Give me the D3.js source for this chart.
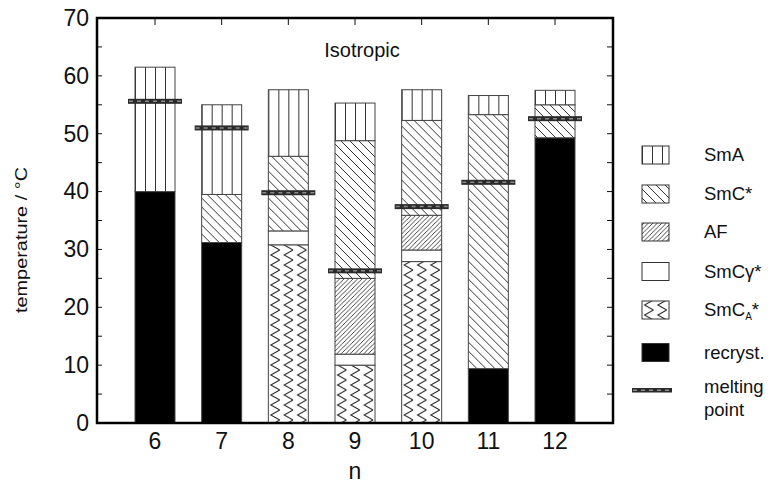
<!DOCTYPE html>
<html>
<head>
<meta charset="utf-8">
<script src="https://cdn.jsdelivr.net/npm/d3@7"></script>
<style>
  html, body { margin: 0; padding: 0; background: #fff; }
  svg { display: block; font-family: "Liberation Sans", Arial, Helvetica, sans-serif; }
</style>
</head>
<body>
<svg id="chart" width="777" height="486"></svg>
<script>
// ---------- data ----------
const categories = [6, 7, 8, 9, 10, 11, 12];
// upper boundary temperature (°C) of each phase range per homologue n; null = phase absent
const recrystTop   = [40.0, 31.2, null, null, null, 9.4, 49.3];
const smcaTop      = [null, null, 30.8, 10.0, 27.9, null, null];
const smcgTop      = [null, null, 33.2, 11.9, 29.9, null, null];
const afTop        = [null, null, null, 25.0, 35.9, null, null];
const smcTop       = [null, 39.5, 46.1, 48.8, 52.3, 53.3, 55.0];
const smaTop       = [61.5, 55.0, 57.6, 55.3, 57.6, 56.6, 57.5];
const meltingPoint = [55.6, 51.0, 39.8, 26.3, 37.4, 41.6, 52.6];
const yTicks = [0, 10, 20, 30, 40, 50, 60, 70];
const yMinorTicks = [0, 5, 10, 15, 20, 25, 30, 35, 40, 45, 50, 55, 60, 65, 70];

const phases = [
  { key: "recryst", tops: recrystTop },
  { key: "smca", tops: smcaTop },
  { key: "smcg", tops: smcgTop },
  { key: "af", tops: afTop },
  { key: "smc", tops: smcTop },
  { key: "sma", tops: smaTop }
];

// ---------- layout ----------
const svg = d3.select("#chart");
const L = 97, R = 613, T = 18, B = 423;

const x = d3.scaleBand().domain(categories).range([L, R]).paddingInner(0.4).paddingOuter(0.57);
const y = d3.scaleLinear().domain([0, 70]).range([B, T]);
const bw = x.bandwidth();

// ---------- patterns ----------
const defs = svg.append("defs");
function addPatterns(id, ox) {
  // SmA vertical lines
  const pA = defs.append("pattern").attr("id", "sma-" + id).attr("patternUnits", "userSpaceOnUse")
    .attr("x", ox).attr("y", 0).attr("width", bw / 4).attr("height", 20);
  pA.append("rect").attr("width", bw / 4).attr("height", 20).attr("fill", "#fff");
  pA.append("line").attr("x1", 0.5).attr("x2", 0.5).attr("y1", 0).attr("y2", 20)
    .attr("stroke", "#333").attr("stroke-width", 1);
  // SmC* back-diagonal lines "\"
  const s = 9;
  const pC = defs.append("pattern").attr("id", "smc-" + id).attr("patternUnits", "userSpaceOnUse")
    .attr("x", ox).attr("y", 0).attr("width", s).attr("height", s);
  pC.append("rect").attr("width", s).attr("height", s).attr("fill", "#fff");
  pC.append("path").attr("d", `M0,0 L${s},${s} M-2,${s - 2} L2,${s + 2} M${s - 2},-2 L${s + 2},2`)
    .attr("stroke", "#333").attr("stroke-width", 1);
  // AF dense forward-diagonal "/"
  const a = 4.5;
  const pF = defs.append("pattern").attr("id", "af-" + id).attr("patternUnits", "userSpaceOnUse")
    .attr("x", ox).attr("y", 0).attr("width", a).attr("height", a);
  pF.append("rect").attr("width", a).attr("height", a).attr("fill", "#fff");
  pF.append("path").attr("d", `M0,${a} L${a},0 M-1,1 L1,-1 M${a - 1},${a + 1} L${a + 1},${a - 1}`)
    .attr("stroke", "#333").attr("stroke-width", 0.9);
  // SmCA* zigzag columns
  const zw = bw / 3, zh = 10;
  const pZ = defs.append("pattern").attr("id", "smca-" + id).attr("patternUnits", "userSpaceOnUse")
    .attr("x", ox).attr("y", 0).attr("width", zw).attr("height", zh);
  pZ.append("rect").attr("width", zw).attr("height", zh).attr("fill", "#fff");
  pZ.append("path").attr("d", `M${zw - 2},0 L${2.5},${zh / 2} L${zw - 2},${zh}`)
    .attr("fill", "none").attr("stroke", "#222").attr("stroke-width", 1);
}
categories.forEach(c => addPatterns(c, x(c)));
addPatterns("leg", 642);

function fillFor(key, id) {
  if (key === "recryst") return "#000";
  if (key === "smcg") return "#fff";
  return `url(#${key}-${id})`;
}

// ---------- bars ----------
const segments = [];
categories.forEach((c, i) => {
  let lo = 0;
  phases.forEach(p => {
    const top = p.tops[i];
    if (top !== null && top !== undefined) {
      segments.push({ cat: c, key: p.key, lo: lo, hi: top });
      lo = top;
    }
  });
});

svg.append("g").selectAll("rect").data(segments).join("rect")
  .attr("x", d => x(d.cat))
  .attr("y", d => y(d.hi))
  .attr("width", bw)
  .attr("height", d => y(d.lo) - y(d.hi))
  .attr("fill", d => fillFor(d.key, d.cat))
  .attr("stroke", "#444")
  .attr("stroke-width", 1);

// melting points
const mp = svg.append("g");
categories.forEach((c, i) => {
  mp.append("rect").attr("x", x(c) - 7).attr("y", y(meltingPoint[i]) - 2.5)
    .attr("width", bw + 14).attr("height", 5).attr("fill", "#2a2a2a");
  mp.append("line").attr("x1", x(c) - 6).attr("x2", x(c) + bw + 6)
    .attr("y1", y(meltingPoint[i])).attr("y2", y(meltingPoint[i]))
    .attr("stroke", "#8a8a8a").attr("stroke-width", 1.5).attr("stroke-dasharray", "4,4");
});

// ---------- axes ----------
const yAxis = d3.axisLeft(y).tickValues(yTicks).tickSize(0).tickPadding(8);
const gy = svg.append("g").attr("transform", `translate(${L},0)`).call(yAxis);
gy.select(".domain").remove();
gy.selectAll("text").attr("font-size", 23).attr("fill", "#111")
  .attr("font-family", "'Liberation Sans', Arial, sans-serif");

const xAxis = d3.axisBottom(x).tickSize(0).tickPadding(10);
const gx = svg.append("g").attr("transform", `translate(0,${B})`).call(xAxis);
gx.select(".domain").remove();
gx.selectAll("text").attr("font-size", 23).attr("fill", "#111")
  .attr("font-family", "'Liberation Sans', Arial, sans-serif");

// minor/inward ticks
const ticks = svg.append("g").attr("stroke", "#111").attr("stroke-width", 1);
yMinorTicks.forEach(v => {
  ticks.append("line").attr("x1", L).attr("x2", L + 5).attr("y1", y(v)).attr("y2", y(v));
  ticks.append("line").attr("x1", R).attr("x2", R - 6).attr("y1", y(v)).attr("y2", y(v));
});
categories.forEach(c => {
  const cx = x(c) + bw / 2;
  ticks.append("line").attr("x1", cx).attr("x2", cx).attr("y1", T).attr("y2", T + 7);
});

// frame
svg.append("rect").attr("x", L).attr("y", T).attr("width", R - L).attr("height", B - T)
  .attr("fill", "none").attr("stroke", "#000").attr("stroke-width", 2.5);

// axis titles
svg.append("text").attr("x", 355).attr("y", 479).attr("text-anchor", "middle")
  .attr("font-size", 23).attr("fill", "#111").text("n");
svg.append("text").attr("transform", "translate(27,240) rotate(-90)")
  .attr("text-anchor", "middle").attr("font-size", 16).attr("fill", "#111")
  .attr("textLength", 146).attr("lengthAdjust", "spacingAndGlyphs")
  .text("temperature / °C");

svg.append("text").attr("x", 362).attr("y", 57).attr("text-anchor", "middle")
  .attr("font-size", 20).attr("fill", "#111").text("Isotropic");

// ---------- legend ----------
const legendItems = [
  { key: "sma", label: "SmA", cy: 155 },
  { key: "smc", label: "SmC*", cy: 194 },
  { key: "af", label: "AF", cy: 232 },
  { key: "smcg", label: "SmCγ*", cy: 271.5 },
  { key: "smca", label: "SmCA*", cy: 310 },
  { key: "recryst", label: "recryst.", cy: 352.5 }
];
const lg = svg.append("g");
legendItems.forEach(it => {
  lg.append("rect").attr("x", 642).attr("y", it.cy - 9).attr("width", 27).attr("height", 18)
    .attr("fill", fillFor(it.key, "leg")).attr("stroke", "#333").attr("stroke-width", 1);
  const t = lg.append("text").attr("x", 704).attr("y", it.cy + 6)
    .attr("font-size", 18.5).attr("fill", "#111");
  if (it.key === "smca") {
    t.append("tspan").text("SmC");
    t.append("tspan").attr("font-size", 10).attr("dy", 4).text("A");
    t.append("tspan").attr("dy", -4).text("*");
  } else {
    t.text(it.label);
  }
});
lg.append("rect").attr("x", 632).attr("y", 388).attr("width", 40).attr("height", 4.5).attr("fill", "#2a2a2a");
lg.append("line").attr("x1", 633).attr("x2", 671).attr("y1", 390.2).attr("y2", 390.2)
  .attr("stroke", "#8a8a8a").attr("stroke-width", 1.5).attr("stroke-dasharray", "4,4");
lg.append("text").attr("x", 704).attr("y", 393).attr("font-size", 18.5).attr("fill", "#111").text("melting");
lg.append("text").attr("x", 704).attr("y", 416).attr("font-size", 18.5).attr("fill", "#111").text("point");
</script>
</body>
</html>
